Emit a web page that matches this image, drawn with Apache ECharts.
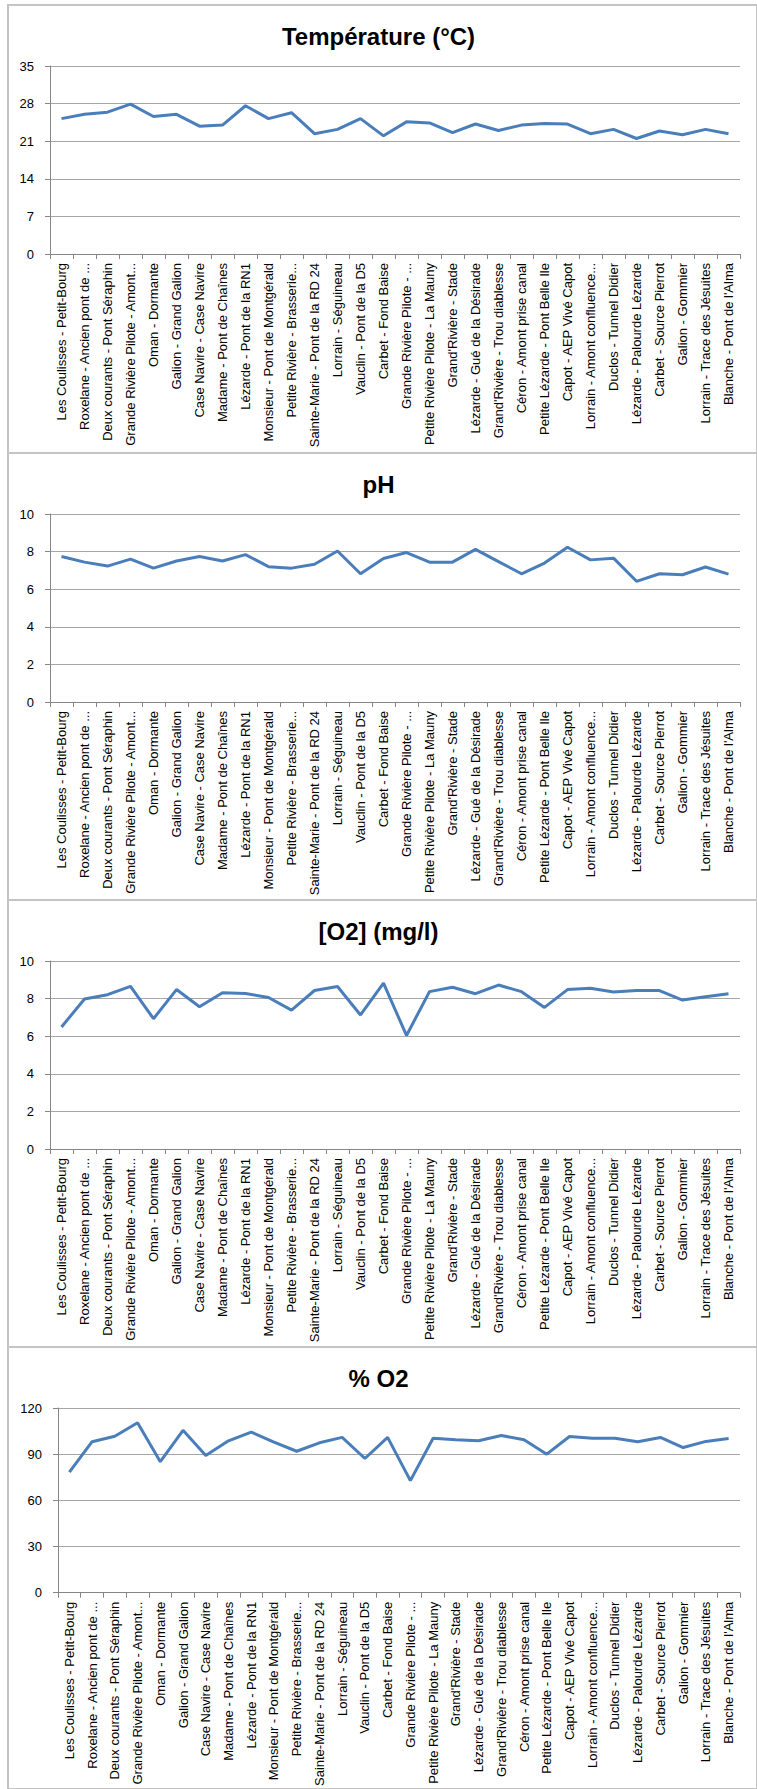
<!DOCTYPE html>
<html>
<head>
<meta charset="utf-8">
<script src="https://cdn.jsdelivr.net/npm/echarts@6/dist/echarts.min.js"></script>
<style>
html,body{margin:0;padding:0;background:#fff;}
#chart{width:757px;height:1789px;}
</style>
</head>
<body>
<div id="chart"></div>
<script>
const categories = [
  "Les Coulisses - Petit-Bourg",
  "Roxelane - Ancien pont de ...",
  "Deux courants - Pont Séraphin",
  "Grande Rivière Pilote - Amont...",
  "Oman - Dormante",
  "Galion - Grand Galion",
  "Case Navire - Case Navire",
  "Madame - Pont de Chaînes",
  "Lézarde - Pont de la RN1",
  "Monsieur - Pont de Montgérald",
  "Petite Rivière - Brasserie...",
  "Sainte-Marie - Pont de la RD 24",
  "Lorrain - Séguineau",
  "Vauclin - Pont de la D5",
  "Carbet - Fond Baise",
  "Grande Rivière Pilote - ...",
  "Petite Rivière Pilote - La Mauny",
  "Grand'Rivière - Stade",
  "Lézarde - Gué de la Désirade",
  "Grand'Rivière - Trou diablesse",
  "Céron - Amont prise canal",
  "Petite Lézarde - Pont Belle Ile",
  "Capot - AEP Vivé Capot",
  "Lorrain - Amont confluence...",
  "Duclos - Tunnel Didier",
  "Lézarde - Palourde Lézarde",
  "Carbet - Source Pierrot",
  "Galion - Gommier",
  "Lorrain - Trace des Jésuites",
  "Blanche - Pont de l'Alma"
];

const temperature = [25.2, 26.0, 26.4, 27.9, 25.6, 26.0, 23.8, 24.0, 27.6, 25.2,
  26.3, 22.4, 23.2, 25.2, 22.0, 24.6, 24.4, 22.6, 24.2, 23.0,
  24.0, 24.3, 24.2, 22.4, 23.2, 21.5, 22.9, 22.2, 23.2, 22.4];

const ph = [7.74, 7.44, 7.23, 7.6, 7.12, 7.5, 7.74, 7.5, 7.84, 7.2,
  7.12, 7.33, 8.03, 6.82, 7.63, 7.95, 7.44, 7.44, 8.12, 7.47,
  6.82, 7.39, 8.23, 7.56, 7.65, 6.42, 6.82, 6.77, 7.18, 6.8];

const o2mg = [6.49, 7.98, 8.21, 8.65, 6.93, 8.48, 7.57, 8.31, 8.27, 8.06,
  7.39, 8.43, 8.64, 7.13, 8.82, 6.04, 8.37, 8.6, 8.26, 8.72,
  8.37, 7.53, 8.48, 8.55, 8.35, 8.43, 8.43, 7.92, 8.1, 8.26];

const o2pct = [78.3, 98.1, 101.7, 110.4, 85.1, 105.5, 89.1, 98.7, 104.3, 97.9,
  91.9, 97.4, 100.9, 87.2, 100.9, 72.8, 100.4, 99.4, 98.7, 102.1,
  99.4, 90.0, 101.5, 100.4, 100.4, 98.1, 100.9, 94.3, 98.3, 100.2];

const titles = ["Température (°C)", "pH", "[O2] (mg/l)", "% O2"];
const yMax = [35, 10, 10, 120];
const yInterval = [7, 2, 2, 30];

const seriesData = [temperature, ph, o2mg, o2pct];
const panelTop = [5, 453, 900, 1347];
const gridLeft = [50, 50, 50, 58];

const chart = echarts.init(document.getElementById('chart'), null, {renderer: 'svg', width: 757, height: 1789});

const option = {
  backgroundColor: '#fff',
  animation: false,
  title: [], grid: [], xAxis: [], yAxis: [], series: [],
  graphic: []
};

for (let i = 0; i < 4; i++) {
  const t = panelTop[i];
  option.title.push({
    text: titles[i], left: 'center', top: t + 14,
    textStyle: {fontFamily: 'Liberation Sans, Arial, sans-serif', fontWeight: 'bold', fontSize: 24, color: '#000'}
  });
  option.grid.push({left: gridLeft[i], right: 17, top: t + 61, height: 188, containLabel: false});
  option.xAxis.push({
    type: 'category', gridIndex: i, data: categories, boundaryGap: true,
    axisLine: {show: true, lineStyle: {color: '#868686', width: 1}},
    axisTick: {show: true, interval: 0, length: 5, lineStyle: {color: '#868686'}},
    axisLabel: {interval: 0, rotate: 90, fontSize: 13, margin: 9, color: '#000',
      fontFamily: 'Liberation Sans, Arial, sans-serif'},
    splitLine: {show: false}
  });
  option.yAxis.push({
    type: 'value', gridIndex: i, min: 0, max: yMax[i], interval: yInterval[i],
    axisLine: {show: true, lineStyle: {color: '#868686', width: 1}},
    axisTick: {show: true, length: 5, lineStyle: {color: '#868686'}},
    axisLabel: {fontSize: 13, margin: 16, color: '#000', fontFamily: 'Liberation Sans, Arial, sans-serif'},
    splitLine: {show: true, lineStyle: {color: '#a6a6a6', width: 1}}
  });
  option.series.push({
    type: 'line', xAxisIndex: i, yAxisIndex: i, data: seriesData[i],
    symbol: 'none', lineStyle: {color: '#4a7ebb', width: 3}, itemStyle: {color: '#4a7ebb'}
  });
  option.graphic.push({
    type: 'rect', silent: true, z: -1,
    shape: {x: 8, y: t, width: 749, height: (i < 3 ? panelTop[i + 1] : 1789) - t},
    style: {fill: 'none', stroke: '#c4c4c4', lineWidth: 2}
  });
}

chart.setOption(option);
</script>
</body>
</html>
